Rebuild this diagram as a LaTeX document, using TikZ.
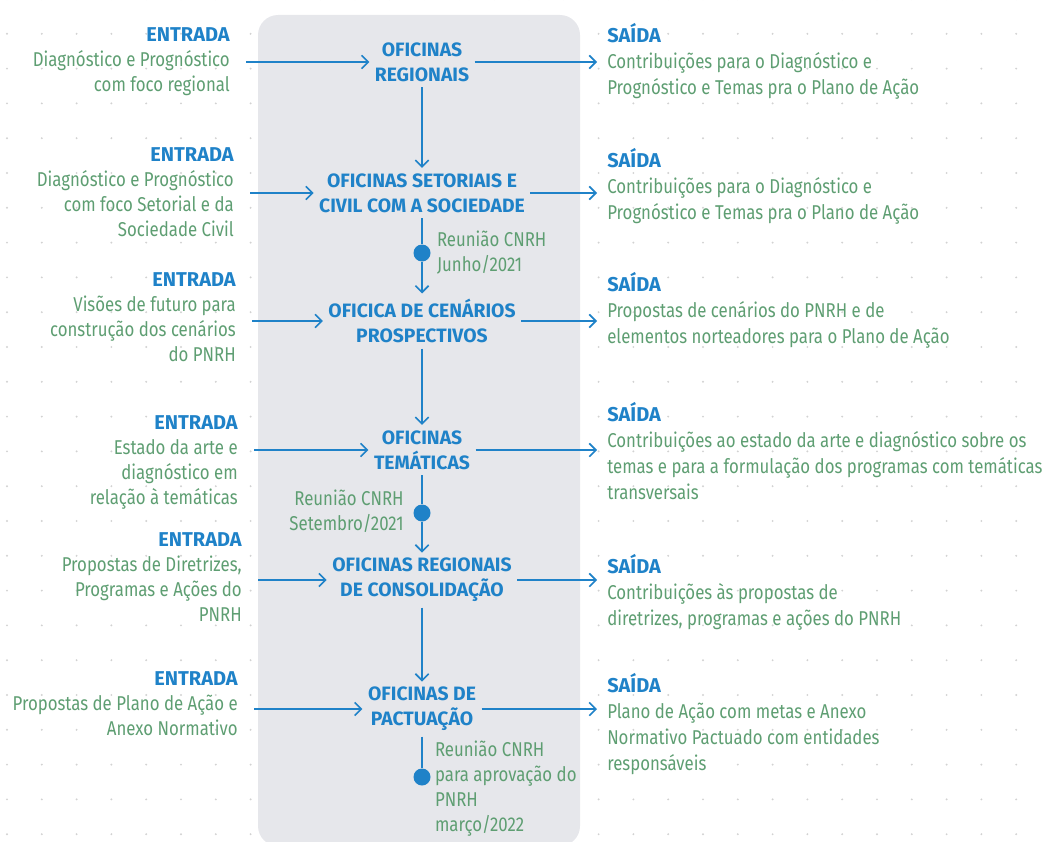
\documentclass[tikz,border=0pt]{standalone}
\usepackage{fontspec}
\setmainfont{Fira Sans}[FakeStretch=0.84]
\newfontfamily\negrito{Fira Sans}
\usetikzlibrary{arrows.meta, positioning}
\definecolor{pnrhblue}{HTML}{1F82C8}
\definecolor{pnrhgreen}{HTML}{5E9E72}
\definecolor{boxgray}{HTML}{E6E7EB}
\definecolor{dotgray}{HTML}{D2D2D2}
\newcommand{\titulo}[1]{\textcolor{pnrhblue}{\negrito\bfseries #1}}
\tikzstyle{oficina} = [
  align=center,
  inner sep=4pt,
  text=pnrhblue,
  font=\negrito\bfseries\fontsize{14.5}{18.75}\selectfont
]
\tikzstyle{entrada} = [
  anchor=east,
  align=right,
  inner sep=0pt,
  text=pnrhgreen,
  font=\fontsize{15}{18.75}\selectfont
]
\tikzstyle{saida} = [
  anchor=west,
  align=left,
  inner sep=0pt,
  text=pnrhgreen,
  font=\fontsize{15}{19.5}\selectfont
]
\tikzstyle{reuniao} = [inner sep=0pt, text=pnrhgreen, font=\fontsize{15}{18.75}\selectfont]
\tikzstyle{marco} = [circle, fill=pnrhblue, inner sep=0pt, minimum size=12.75pt]
\tikzstyle{line} = [draw=pnrhblue, line width=1.2pt]
\tikzstyle{arrow} = [line, -{Straight Barb[length=5pt,width=10pt]}]

\begin{document}
\begin{tikzpicture}[x=0.75pt, y=-0.75pt]
    \useasboundingbox (0,0) rectangle (1049,842);
    % background grid of dots
    \foreach \i in {0,...,29}
      \foreach \j in {0,...,24}
        \fill[dotgray] (7+34.8*\i, -1+34.8*\j) circle (0.8pt);
    \fill[boxgray, rounded corners=15pt] (258,15) rectangle (580,846);

    \node (oficinas-regionais) [oficina] at (422,62) {OFICINAS\\REGIONAIS};
    \node (oficinas-setoriais) [oficina] at (422,193) {OFICINAS SETORIAIS E\\CIVIL COM A SOCIEDADE};
    \node (oficina-cenarios) [oficina] at (422,321) {OFICICA DE CENÁRIOS\\PROSPECTIVOS};
    \node (oficinas-tematicas) [oficina] at (422,450) {OFICINAS\\TEMÁTICAS};
    \node (oficinas-consolidacao) [oficina] at (422,580) {OFICINAS REGIONAIS\\DE CONSOLIDAÇÃO};
    \node (oficinas-pactuacao) [oficina] at (422,709) {OFICINAS DE\\PACTUAÇÃO};

    \node (entrada-regionais) [entrada] at (230,62) {\titulo{ENTRADA}\\Diagnóstico e Prognóstico\\com foco regional};
    \node (entrada-setoriais) [entrada] at (234,192) {\titulo{ENTRADA}\\Diagnóstico e Prognóstico\\com foco Setorial e da\\Sociedade Civil};
    \node (entrada-cenarios) [entrada] at (236,317) {\titulo{ENTRADA}\\Visões de futuro para\\construção dos cenários\\do PNRH};
    \node (entrada-tematicas) [entrada] at (238,462) {\titulo{ENTRADA}\\Estado da arte e\\diagnóstico em\\relação à temáticas};
    \node (entrada-consolidacao) [entrada] at (242,577) {\titulo{ENTRADA}\\Propostas de Diretrizes,\\Programas e Ações do\\PNRH};
    \node (entrada-pactuacao) [entrada] at (238,704) {\titulo{ENTRADA}\\Propostas de Plano de Ação e\\Anexo Normativo};

    \node (saida-regionais) [saida] at (607,61) {\titulo{SAÍDA}\\Contribuições para o Diagnóstico e\\Prognóstico e Temas pra o Plano de Ação};
    \node (saida-setoriais) [saida] at (607,186) {\titulo{SAÍDA}\\Contribuições para o Diagnóstico e\\Prognóstico e Temas pra o Plano de Ação};
    \node (saida-cenarios) [saida] at (607,310) {\titulo{SAÍDA}\\Propostas de cenários do PNRH e de\\elementos norteadores para o Plano de Ação};
    \node (saida-tematicas) [saida] at (607,451) {\titulo{SAÍDA}\\Contribuições ao estado da arte e diagnóstico sobre os\\temas e para a formulação dos programas com temáticas\\transversais};
    \node (saida-consolidacao) [saida] at (607,592) {\titulo{SAÍDA}\\Contribuições às propostas de\\diretrizes, programas e ações do PNRH};
    \node (saida-pactuacao) [saida] at (607,724) {\titulo{SAÍDA}\\Plano de Ação com metas e Anexo\\Normativo Pactuado com entidades\\responsáveis};

    \node (marco-junho) [marco] at (422,253) {};
    \node (marco-setembro) [marco] at (422,513) {};
    \node (marco-marco) [marco] at (422,777) {};
    \node (reuniao-junho) [reuniao, right=4.5pt of marco-junho, align=left] {Reunião CNRH\\Junho/2021};
    \node (reuniao-setembro) [reuniao, left=7pt of marco-setembro, yshift=1.5pt, align=right] {Reunião CNRH\\Setembro/2021};
    \node (reuniao-marco) [reuniao, right=3pt of marco-marco, yshift=-9pt, align=left] {Reunião CNRH\\para aprovação do\\PNRH\\março/2022};

    \foreach \etapa in {regionais, setoriais, tematicas, consolidacao, pactuacao} {
      \draw [arrow, shorten <=12pt] (entrada-\etapa.east |- oficinas-\etapa.west) -- (oficinas-\etapa.west);
      \draw [arrow, shorten >=7.5pt] (oficinas-\etapa.east) -- (saida-\etapa.west |- oficinas-\etapa.east);
    }
    \draw [arrow, shorten <=12pt] (entrada-cenarios.east |- oficina-cenarios.west) -- (oficina-cenarios.west);
    \draw [arrow, shorten >=7.5pt] (oficina-cenarios.east) -- (saida-cenarios.west |- oficina-cenarios.east);

    \draw [arrow] (oficinas-regionais) -- (oficinas-setoriais);
    \draw [line] (oficinas-setoriais) -- (marco-junho);
    \draw [arrow] (marco-junho) -- (oficina-cenarios);
    \draw [arrow] (oficina-cenarios) -- (oficinas-tematicas);
    \draw [line] (oficinas-tematicas) -- (marco-setembro);
    \draw [arrow] (marco-setembro) -- (oficinas-consolidacao);
    \draw [arrow] (oficinas-consolidacao) -- (oficinas-pactuacao);
    \draw [line] (oficinas-pactuacao) -- (marco-marco);
\end{tikzpicture}
\end{document}
